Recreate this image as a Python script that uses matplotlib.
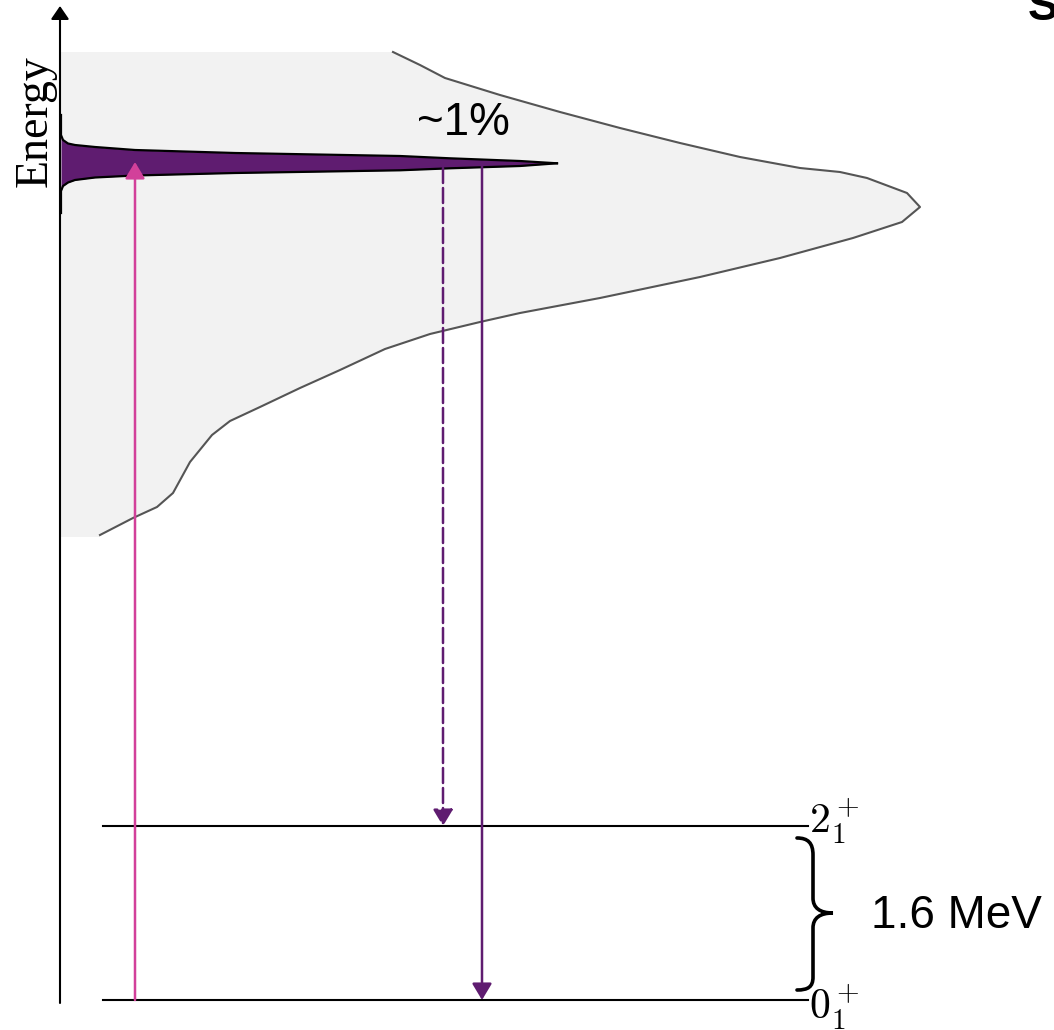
import matplotlib.pyplot as plt
from matplotlib.path import Path
from matplotlib.patches import PathPatch

plt.rcParams['mathtext.fontset'] = 'cm'

# canvas in pixel units (y grows downward)
W, H = 1054, 1030

# grey band of states (outline)
band_x = [393, 420, 445, 500, 560, 620, 680, 740, 800, 840, 867, 907, 920, 902, 853,
          780, 700, 600, 520, 480, 430, 385, 340, 300, 260, 230, 212, 190, 173, 157, 133, 100]
band_y = [52, 65, 78, 95, 112, 128, 143, 157, 168, 172, 178, 193, 207, 222, 238,
          258, 277, 298, 313, 322, 334, 349, 370, 388, 407, 421, 435, 462, 493, 507, 518, 535]
band_top, band_bottom, axis_x = 52, 537, 60

# narrow resonance peak (upper and lower edge)
peak_x = [61, 61, 63, 68, 75, 95, 135, 235, 400, 450, 520, 557]
peak_top = [115, 135, 140, 143.5, 145, 147, 150, 153, 156, 158.3, 161, 163.3]
peak_bot = [213, 191, 186, 182.5, 180, 177.5, 175.5, 173, 170.3, 168.3, 166, 163.3]

# levels
level_y = {'2': 826, '0': 1000}
level_x0, level_x1 = 103, 808

# transitions
excite_x = 135
decay_dashed_x = 443
decay_solid_x = 482
peak_y = 166

pink = '#d2409a'
purple = '#5f1c70'

fig = plt.figure(figsize=(W / 100, H / 100), dpi=100)
ax = fig.add_axes([0, 0, 1, 1])
ax.set_xlim(0, W)
ax.set_ylim(H, 0)
ax.axis('off')

# grey band
poly_x = [axis_x] + band_x + [band_x[-1], axis_x]
poly_y = [band_top] + band_y + [band_bottom, band_bottom]
ax.fill(poly_x, poly_y, color='#f2f2f2', lw=0, zorder=1)
ax.plot(band_x, band_y, color='#555555', lw=1.5, zorder=2)

# energy axis
ax.annotate('', xy=(axis_x, 6), xytext=(axis_x, 1003),
            arrowprops=dict(arrowstyle='-|>,head_length=0.8,head_width=0.55',
                            mutation_scale=10, color='black', lw=1.5,
                            shrinkA=0, shrinkB=0), zorder=5)
ax.text(47, 121, 'Energy', rotation=90, rotation_mode='anchor', ha='center',
        va='baseline', fontsize=33, family='Liberation Serif', zorder=6)

# levels
for key, y in level_y.items():
    ax.plot([level_x0, level_x1], [y, y], color='black', lw=1.5, zorder=3)
ax.text(809, 833, r'$2_1^+$', fontsize=30, ha='left', va='baseline', zorder=6)
ax.text(809, 1019, r'$0_1^+$', fontsize=30, ha='left', va='baseline', zorder=6)

# peak
ax.fill_between(peak_x, peak_top, peak_bot, color=purple, lw=0, zorder=4)
ax.plot(peak_x, peak_top, color='black', lw=1.6, zorder=4)
ax.plot(peak_x, peak_bot, color='black', lw=1.6, zorder=4)
ax.text(417, 135, '~1%', fontsize=33, family='Liberation Sans', ha='left',
        va='baseline', zorder=6)

# arrows
head = '-|>,head_length=1.0,head_width=0.6'
ax.annotate('', xy=(excite_x, 162), xytext=(excite_x, level_y['0']),
            arrowprops=dict(arrowstyle=head, mutation_scale=10, color=pink, lw=1.8,
                            shrinkA=0, shrinkB=0), zorder=7)
ax.annotate('', xy=(decay_dashed_x, level_y['2']), xytext=(decay_dashed_x, peak_y + 2),
            arrowprops=dict(arrowstyle=head, mutation_scale=10, color=purple, lw=1.8,
                            linestyle=(0, (6, 2)), shrinkA=0, shrinkB=0), zorder=7)
ax.annotate('', xy=(decay_solid_x, level_y['0']), xytext=(decay_solid_x, peak_y),
            arrowprops=dict(arrowstyle=head, mutation_scale=10, color=purple, lw=1.8,
                            shrinkA=0, shrinkB=0), zorder=7)

# brace for the gap
verts = [(797, 838), (808, 838), (813, 843), (813, 855),
         (813, 898),
         (813, 908), (820, 913), (833, 913),
         (820, 913), (813, 918), (813, 928),
         (813, 977),
         (813, 987), (808, 990), (797, 990)]
codes = [Path.MOVETO, Path.CURVE4, Path.CURVE4, Path.CURVE4,
         Path.LINETO,
         Path.CURVE4, Path.CURVE4, Path.CURVE4,
         Path.CURVE4, Path.CURVE4, Path.CURVE4,
         Path.LINETO,
         Path.CURVE4, Path.CURVE4, Path.CURVE4]
ax.add_patch(PathPatch(Path(verts, codes), fill=False, lw=2.6, color='black',
                       capstyle='round', zorder=6))
ax.text(871, 928, '1.6 MeV', fontsize=33, family='Liberation Sans', ha='left',
        va='baseline', zorder=6)

# clipped title letter in the corner
ax.text(1028, 20, 'S', fontsize=33, family='Liberation Sans', weight='bold',
        ha='left', va='baseline', zorder=6)

fig.savefig('out.png', dpi=100)
